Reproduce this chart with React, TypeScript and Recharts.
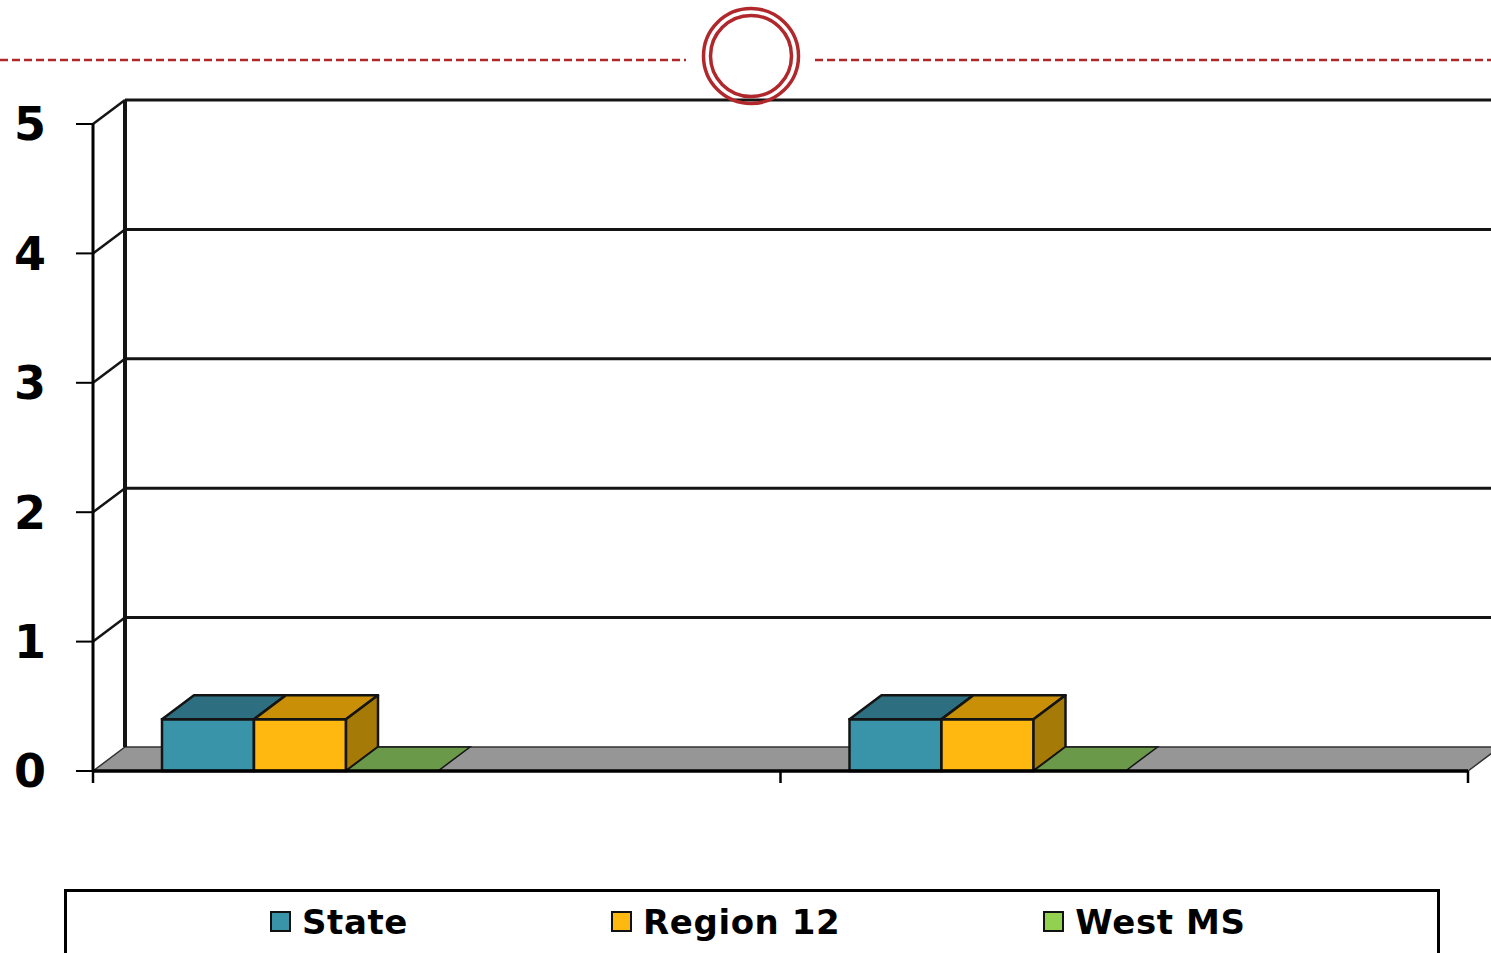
import React from "react";
import {
  BarChart,
  Bar,
  XAxis,
  YAxis,
  CartesianGrid,
  Legend,
  Customized,
} from "recharts";

// chart values
const categories = ["Group 1", "Group 2"];
const stateValues = [0.4, 0.4];
const regionValues = [0.4, 0.4];
const westMsValues = [0, 0];
const yTicks = [0, 1, 2, 3, 4, 5];

type Series = {
  key: string;
  label: string;
  front: string;
  top: string;
  side: string;
  floor: string;
  legend: string;
};

const series: Series[] = [
  { key: "state", label: "State", front: "#3A94A9", top: "#2D6F80", side: "#24606F", floor: "#3A94A9", legend: "#3A94A9" },
  { key: "region", label: "Region 12", front: "#FFB80F", top: "#C98F07", side: "#A67A06", floor: "#FFB80F", legend: "#FFB80F" },
  { key: "westMs", label: "West MS", front: "#92D050", top: "#7AAE44", side: "#5F8A33", floor: "#6A994A", legend: "#92D050" },
];

const data = categories.map((name, i) => ({
  name,
  state: stateValues[i],
  region: regionValues[i],
  westMs: westMsValues[i],
}));

// layout
const W = 1491;
const H = 953;
const Y_AXIS_W = 93;
const MARGIN = { top: 124, right: 23, left: 0, bottom: 170 };
const X_AXIS_H = 12;
const PLOT_BOTTOM = H - MARGIN.bottom - X_AXIS_H;
const PLOT_W = W - Y_AXIS_W - MARGIN.right;
const HALF_BAND = PLOT_W / categories.length / 2;
const DX = 32; // depth of the 3d look
const DY = -24;
const GROUP_OFFSET = -137; // excel puts the bars left of the band centre
const FONT = "'DejaVu Sans', Verdana, sans-serif";
const RED = "#B0282C";
const EDGE = "#141414";

function Box3D(props: any) {
  const { x, y, width, height, colors } = props;
  const bx = x + GROUP_OFFSET;
  const h = height || 0;
  if (h < 0.5) {
    const b = y + h;
    return (
      <polygon
        points={`${bx},${b} ${bx + width},${b} ${bx + width + DX},${b + DY} ${bx + DX},${b + DY}`}
        fill={colors.floor}
        stroke={EDGE}
        strokeWidth={1.5}
      />
    );
  }
  return (
    <g>
      <rect x={bx} y={y} width={width} height={h} fill={colors.front} stroke={EDGE} strokeWidth={2.5} />
      <polygon
        points={`${bx},${y} ${bx + DX},${y + DY} ${bx + width + DX},${y + DY} ${bx + width},${y}`}
        fill={colors.top}
        stroke={EDGE}
        strokeWidth={2.5}
        strokeLinejoin="round"
      />
      <polygon
        points={`${bx + width},${y} ${bx + width + DX},${y + DY} ${bx + width + DX},${y + h + DY} ${bx + width},${y + h}`}
        fill={colors.side}
        stroke={EDGE}
        strokeWidth={2.5}
        strokeLinejoin="round"
      />
    </g>
  );
}

function WallLine(props: any) {
  const { x1, x2, y1 } = props;
  if (Math.abs(y1 - PLOT_BOTTOM) < 1) {
    return (
      <polygon
        points={`${x1},${y1} ${x2},${y1} ${x2 + DX},${y1 + DY} ${x1 + DX},${y1 + DY}`}
        fill="#969696"
        stroke="#333"
        strokeWidth={1.5}
      />
    );
  }
  return (
    <g>
      <line x1={x1} y1={y1} x2={x1 + DX} y2={y1 + DY} stroke={EDGE} strokeWidth={2.5} />
      <line x1={x1 + DX} y1={y1 + DY} x2={x2 + DX} y2={y1 + DY} stroke={EDGE} strokeWidth={3} />
    </g>
  );
}

function CategoryTick(props: any) {
  const { x, y, index, visibleTicksCount } = props;
  const last = index === visibleTicksCount - 1;
  return (
    <g>
      <line x1={x - HALF_BAND} y1={y} x2={x - HALF_BAND} y2={y + 12} stroke="#000" strokeWidth={2.5} />
      {last && <line x1={x + HALF_BAND} y1={y} x2={x + HALF_BAND} y2={y + 12} stroke="#000" strokeWidth={2.5} />}
    </g>
  );
}

function Frame() {
  return (
    <g>
      {/* back wall edge */}
      <line
        x1={Y_AXIS_W + DX}
        y1={MARGIN.top + DY}
        x2={Y_AXIS_W + DX}
        y2={PLOT_BOTTOM + DY}
        stroke={EDGE}
        strokeWidth={4}
      />
      {/* slide decoration */}
      <line x1={0} y1={60} x2={686} y2={60} stroke={RED} strokeWidth={2.5} strokeDasharray="8 4" />
      <line x1={815} y1={60} x2={W} y2={60} stroke={RED} strokeWidth={2.5} strokeDasharray="8 4" />
      <circle cx={751} cy={56} r={47.5} fill="none" stroke={RED} strokeWidth={3.5} />
      <circle cx={751} cy={56} r={40.5} fill="none" stroke={RED} strokeWidth={3.5} />
    </g>
  );
}

function LegendBox() {
  return (
    <div
      style={{
        boxSizing: "border-box",
        width: 1376,
        height: 80,
        border: "3px solid #000",
        display: "flex",
        alignItems: "flex-start",
        paddingLeft: 203,
        gap: 203,
        fontFamily: FONT,
        fontWeight: 700,
        fontSize: 34,
        letterSpacing: 0.6,
        color: "#000",
        background: "#fff",
      }}
    >
      {series.map((s) => (
        <div key={s.key} style={{ display: "flex", alignItems: "center", height: 59 }}>
          <span
            style={{
              display: "inline-block",
              boxSizing: "border-box",
              width: 21,
              height: 21,
              border: "2px solid #111",
              background: s.legend,
              marginRight: 11,
            }}
          />
          <span style={{ lineHeight: 1 }}>{s.label}</span>
        </div>
      ))}
    </div>
  );
}

export default function App() {
  return (
    <div style={{ position: "absolute", left: 0, top: 0, width: W, height: H, background: "#fff" }}>
      <BarChart width={W} height={H} data={data} margin={MARGIN} barGap={0} barSize={92}>
        <CartesianGrid horizontal={(p: any) => <WallLine key={p.key} {...p} />} vertical={false} />
        <Customized component={<Frame />} />
        <XAxis
          dataKey="name"
          height={X_AXIS_H}
          axisLine={{ stroke: "#000", strokeWidth: 3.5 }}
          tickLine={false}
          tickSize={0}
          tickMargin={0}
          tick={(p: any) => <CategoryTick {...p} />}
          interval={0}
        />
        <YAxis
          width={Y_AXIS_W}
          domain={[0, 5]}
          ticks={yTicks}
          interval={0}
          axisLine={{ stroke: "#000", strokeWidth: 3 }}
          tickLine={{ stroke: "#000", strokeWidth: 2 }}
          tickSize={17}
          tickMargin={30}
          tick={{ fontFamily: FONT, fontWeight: 700, fontSize: 46, fill: "#000" }}
        />
        {series.map((s) => (
          <Bar
            key={s.key}
            dataKey={s.key}
            name={s.label}
            fill={s.front}
            isAnimationActive={false}
            shape={(p: any) => <Box3D {...p} colors={s} />}
          />
        ))}
        <Legend
          layout="vertical"
          align="center"
          verticalAlign="middle"
          wrapperStyle={{ position: "absolute", left: 64, top: 889, width: 1376 }}
          content={() => <LegendBox />}
        />
      </BarChart>
    </div>
  );
}
